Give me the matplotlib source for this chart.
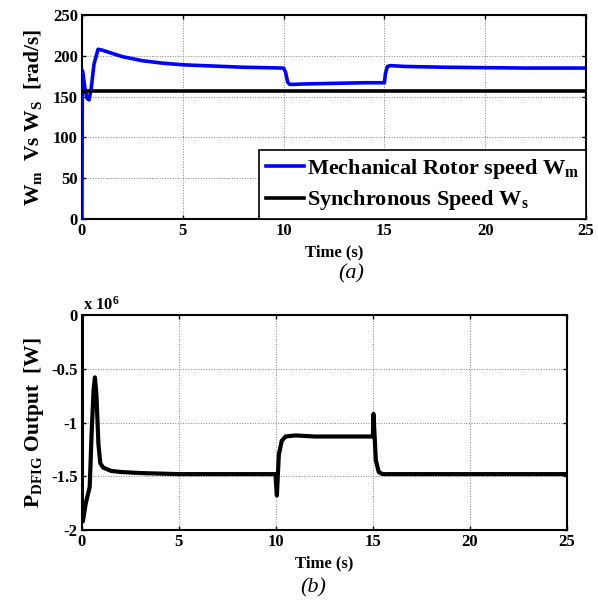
import numpy as np
import matplotlib
matplotlib.use("Agg")
import matplotlib.pyplot as plt

plt.rcParams["font.family"] = "Liberation Serif"
plt.rcParams["font.weight"] = "bold"
plt.rcParams["axes.labelweight"] = "bold"
plt.rcParams["mathtext.fontset"] = "custom"
plt.rcParams["mathtext.rm"] = "Liberation Serif:bold"
plt.rcParams["mathtext.it"] = "Liberation Serif:bold"
plt.rcParams["mathtext.bf"] = "Liberation Serif:bold"

# =====================================================
# DATA
# =====================================================

# (a) rotor speed vs synchronous speed
t_m = [0, 0.02, 0.05, 0.15, 0.25, 0.35, 0.45, 0.6, 0.8, 1.0, 1.5, 2, 3, 4,
       5, 6, 7, 8, 9, 10, 10.1, 10.2, 10.3, 10.5, 11, 12, 13, 14, 15,
       15.05, 15.15, 15.3, 16, 18, 20, 22, 25]
w_m = [0, 182, 178, 160, 148, 146, 158, 190, 208, 207, 203, 199, 194, 191,
       189, 188, 187, 186, 185.5, 185, 180, 168, 165, 165, 165.5, 166, 166.5, 167, 167,
       178, 187, 188, 187, 186, 185.5, 185, 185]
t_s = [0, 25]
w_s = [157, 157]

# (b) DFIG output power (x 1e6 W)
t_p = [0, 0.001, 0.05, 0.2, 0.4, 0.5, 0.6, 0.67, 0.75, 0.85, 0.95, 1.1, 1.5,
       2, 3, 5, 8, 9.98, 10.0, 10.05, 10.15, 10.3, 10.5, 11, 12, 13, 14, 15,
       15.03, 15.08, 15.15, 15.3, 15.5, 17, 20, 25]
p_out = [0, -1.9, -1.92, -1.75, -1.6, -1.1, -0.7, -0.58, -0.75, -1.2, -1.38, -1.42, -1.45,
         -1.46, -1.47, -1.48, -1.48, -1.48, -1.55, -1.68, -1.3, -1.17, -1.13, -1.12, -1.13, -1.13, -1.13, -1.13,
         -0.92, -1.1, -1.35, -1.46, -1.48, -1.48, -1.48, -1.48]

x_ticks = [0, 5, 10, 15, 20, 25]
y_ticks_a = [0, 50, 100, 150, 200, 250]
y_ticks_b = [-2, -1.5, -1, -0.5, 0]
y_labels_b = ["-2", "-1.5", "-1", "-0.5", "0"]

fig = plt.figure(figsize=(5.98, 6.01), dpi=100)

def style(ax):
    ax.tick_params(direction="in", top=True, right=True, labelsize=12,
                   length=3, width=1, pad=3)
    ax.grid(True, color="gray", linestyle=":", linewidth=0.7)
    for s in ax.spines.values():
        s.set_linewidth(1.5)

# =====================================================
# (a)
# =====================================================
ax1 = fig.add_axes([0.137, 0.6356, 0.843, 0.3394])
ax1.plot(t_m, w_m, color="blue", linewidth=2.6, zorder=3,
         label=r"Mechanical Rotor speed W$_{\mathrm{m}}$")
ax1.plot(t_s, w_s, color="black", linewidth=2.6, zorder=3,
         label=r"Synchronous Speed W$_{\mathrm{s}}$")
ax1.set_xlim(0, 25)
ax1.set_ylim(0, 250)
ax1.set_xticks(x_ticks)
ax1.set_yticks(y_ticks_a)
style(ax1)
ax1.set_ylabel(r"W$_{\mathrm{m}}$  Vs W$_{\mathrm{S}}$  [rad/s]", fontsize=15.5, labelpad=6)
ax1.set_xlabel("Time (s)", fontsize=12, labelpad=4)
leg = ax1.legend(loc="lower right", borderaxespad=0, fancybox=False,
                 edgecolor="black", framealpha=1, fontsize=16,
                 handlelength=1.7, handletextpad=0.15, labelspacing=0.35,
                 borderpad=0.3)
leg.get_frame().set_linewidth(1.2)
fig.text(0.587, 0.544, "(a)", fontsize=16, style="italic", weight="normal",
         ha="center", va="center")

# =====================================================
# (b)
# =====================================================
ax2 = fig.add_axes([0.137, 0.1181, 0.811, 0.3577])
ax2.plot(t_p, p_out, color="black", linewidth=3, zorder=3)
ax2.set_xlim(0, 25)
ax2.set_ylim(-2, 0)
ax2.set_xticks(x_ticks)
ax2.set_yticks(y_ticks_b)
ax2.set_yticklabels(y_labels_b)
style(ax2)
ax2.set_ylabel(r"P$_{\mathrm{DFIG}}$ Output  [W]", fontsize=15.5, labelpad=4)
ax2.set_xlabel("Time (s)", fontsize=12, labelpad=4)
fig.text(0.139, 0.484, r"x 10$^{6}$", fontsize=12, ha="left", va="baseline")
fig.text(0.524, 0.022, "(b)", fontsize=16, style="italic", weight="normal",
         ha="center", va="center")

fig.savefig("out.png", dpi=100)
